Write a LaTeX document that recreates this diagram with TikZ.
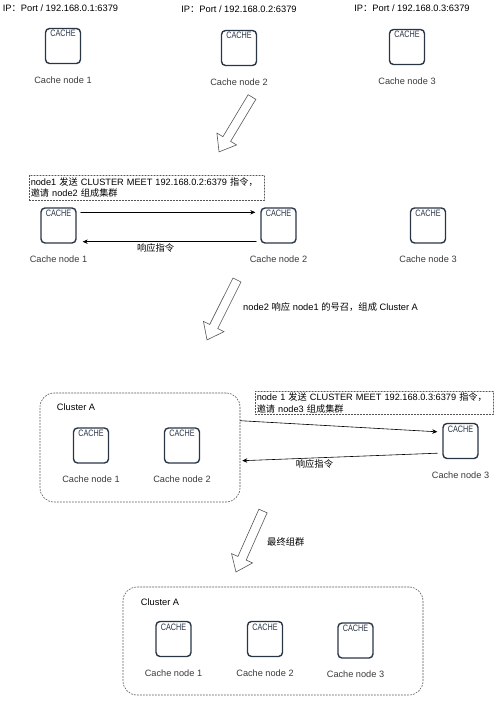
\documentclass[tikz,border=0pt]{standalone}
\usepackage{fontspec}
\setmainfont{Liberation Sans}
\newfontfamily\cjk{Noto Sans CJK SC}
\newfontfamily\cachefont[FakeStretch=0.78]{Liberation Sans}
\usepackage{tikz}
\usetikzlibrary{positioning}
\usetikzlibrary{arrows.meta}
\usetikzlibrary{calc}

\definecolor{BoxLine}{HTML}{2A3546}
\definecolor{CapText}{HTML}{3A3A3A}
\definecolor{DashLine}{HTML}{555555}

\tikzset{
  cachebox/.style={draw=BoxLine,line width=1.4pt,rounded corners=4pt,minimum size=35pt,inner sep=0pt,
    label={[anchor=north,yshift=-2.5pt,inner sep=0pt,font=\cachefont\fontsize{9.3}{10}\selectfont,text=BoxLine]north:CACHE}},
  caption/.style={inner sep=0pt,font=\fontsize{9.2}{11}\selectfont,text=CapText},
  iplabel/.style={inner sep=0pt,font=\fontsize{9.3}{11}\selectfont},
  note/.style={draw=DashLine,dash pattern=on 1.5pt off 1.5pt,line width=.5pt,anchor=north west,
    align=left,inner sep=1.5pt,font=\fontsize{9.2}{11.5}\selectfont},
  cluster/.style={draw=DashLine,dash pattern=on 1.5pt off 1.5pt,line width=.6pt,rounded corners=14pt},
  msg/.style={-{Stealth[length=5pt,width=4.5pt]},line width=.6pt},
  bigarrow/.style={draw=DashLine,line width=.6pt,fill=white,line join=miter},
}

% tail, angle, length
\newcommand{\hollowarrow}[3]{%
\draw[bigarrow,shift={(#1)},rotate=#2] (0,4.5) -- (#3-15,4.5) -- (#3-15,11.5) -- (#3,0) -- (#3-15,-11.5) -- (#3-15,-4.5) -- (0,-4.5) -- cycle;}

\begin{document}
\begin{tikzpicture}[x=1pt,y=-1pt,line cap=round,line join=round]
\useasboundingbox (0,0) rectangle (500,702);

% step 1
\draw (60.5,8) node[iplabel] (ip1) {IP{\cjk ：}Port / 192.168.0.1:6379};
\draw (239,9) node[iplabel] (ip2) {IP{\cjk ：}Port / 192.168.0.2:6379};
\draw (412,8) node[iplabel] (ip3) {IP{\cjk ：}Port / 192.168.0.3:6379};

\node[cachebox] (b11) at (63,46) {};
\node[cachebox] (b12) at (239,48) {};
\node[cachebox] (b13) at (407,47) {};
\node[caption,below=12pt of b11] (c11) {Cache node 1};
\node[caption,below=12pt of b12] (c12) {Cache node 2};
\node[caption,below=12pt of b13] (c13) {Cache node 3};

\coordinate (t1) at (252,97);
\hollowarrow{t1}{239}{64}

% step 2
\node[note,text width=232pt,minimum height=25pt] (n2) at (29,175)
  {node1 {\cjk 发送} CLUSTER MEET 192.168.0.2:6379 {\cjk 指令，}\\{\cjk 邀请} node2 {\cjk 组成集群}};

\node[cachebox] (b21) at (58.5,225.5) {};
\node[cachebox] (b22) at (278.5,225.5) {};
\node[cachebox] (b23) at (428,225.5) {};
\node[caption,below=12pt of b21] (c21) {Cache node 1};
\node[caption,below=12pt of b22] (c22) {Cache node 2};
\node[caption,below=12pt of b23] (c23) {Cache node 3};

\draw[msg] ([xshift=4pt,yshift=-5pt]b21.north east) -- ([xshift=-5pt,yshift=-5pt]b22.north west);
\draw[msg] ([xshift=-4pt,yshift=2pt]b22.south west) -- node[pos=0.58,below=2pt,iplabel] (r2) {\cjk 响应指令} ([xshift=6pt,yshift=2pt]b21.south east);

\coordinate (t2) at (237,280);
\hollowarrow{t2}{243.4}{67}
\node[iplabel,anchor=west] (s2) at (243,307) {node2 {\cjk 响应} node1 {\cjk 的号召，组成} Cluster A};

% step 3
\node[cluster,minimum width=200pt,minimum height=109pt] (clA) at (140,447.5) {};
\node[iplabel,anchor=west] (clAt) at ($(clA.north west)+(17,14)$) {Cluster A};
\node[note,text width=235pt,minimum height=23pt] (n3) at (255,391)
  {node 1 {\cjk 发送} CLUSTER MEET 192.168.0.3:6379 {\cjk 指令，}\\{\cjk 邀请} node3 {\cjk 组成集群}};

\node[cachebox] (b31) at (91,445.5) {};
\node[cachebox] (b32) at (182,445.5) {};
\node[cachebox] (b33) at (460.5,441) {};
\node[caption,below=12pt of b31] (c31) {Cache node 1};
\node[caption,below=12pt of b32] (c32) {Cache node 2};
\node[caption,below=12pt of b33] (c33) {Cache node 3};

\draw[msg] ($(clA.north east)+(0,28)$) -- ($(b33.north west)+(-5,9)$);
\draw[msg] ($(b33.south west)+(-5,-6)$) -- node[pos=0.63,below=1pt,iplabel] (r3) {\cjk 响应指令} ($(clA.north east)+(2,68)$);

\coordinate (t3) at (263,511);
\hollowarrow{t3}{246.1}{66.7}
\node[iplabel,anchor=west] (s3) at (267,542) {\cjk 最终组群};

% step 4
\node[cluster,minimum width=300pt,minimum height=108pt] (clB) at (273,641) {};
\node[iplabel,anchor=west] (clBt) at ($(clB.north west)+(18,15)$) {Cluster A};

\node[cachebox] (b41) at (173.5,639) {};
\node[cachebox] (b42) at (265,639) {};
\node[cachebox] (b43) at (355.5,640.5) {};
\node[caption,below=12pt of b41] (c41) {Cache node 1};
\node[caption,below=12pt of b42] (c42) {Cache node 2};
\node[caption,below=12pt of b43] (c43) {Cache node 3};
\end{tikzpicture}
\end{document}
